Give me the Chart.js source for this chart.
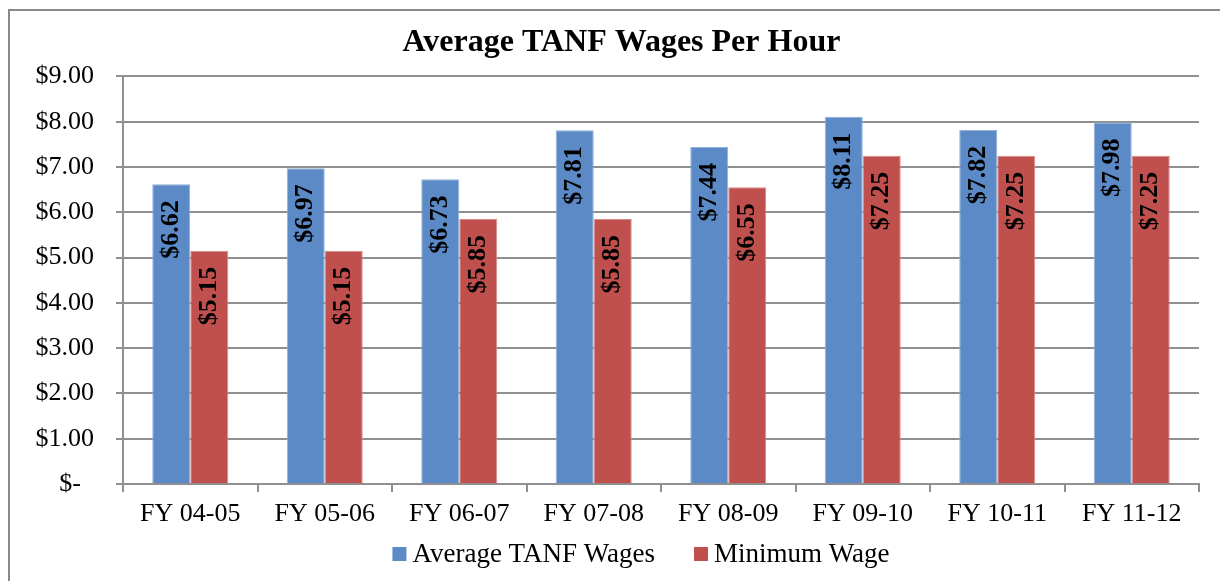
<!DOCTYPE html>
<html>
<head>
<meta charset="utf-8">
<script src="https://cdn.jsdelivr.net/npm/chart.js@4.4.1/dist/chart.umd.min.js"></script>
<style>
  html, body { margin: 0; padding: 0; background: #fff; }
  #wrap { position: relative; width: 1220px; height: 581px; }
</style>
</head>
<body>
<div id="wrap"><canvas id="wages" width="1220" height="581"></canvas></div>
<script>
// Data
const categories = ['FY 04-05', 'FY 05-06', 'FY 06-07', 'FY 07-08', 'FY 08-09', 'FY 09-10', 'FY 10-11', 'FY 11-12'];
const tanfWages = [6.62, 6.97, 6.73, 7.81, 7.44, 8.11, 7.82, 7.98];
const minWage = [5.15, 5.15, 5.85, 5.85, 6.55, 7.25, 7.25, 7.25];
const seriesNames = ['Average TANF Wages', 'Minimum Wage'];
const seriesColors = ['#5B8AC6', '#C0504D'];

const serif = "'Liberation Serif', 'Times New Roman', serif";
const gridGray = '#8f8f8f';

// Frame round the chart
const framePlugin = {
  id: 'frame',
  afterLayout(chart) {
    // let the y tick labels run into the left padding without being clipped
    chart.scales.y.left = 0;
  },
  beforeDraw(chart) {
    const ctx = chart.ctx;
    ctx.save();
    ctx.strokeStyle = '#8a8a8a';
    ctx.lineWidth = 2;
    ctx.beginPath();
    ctx.moveTo(9, chart.height + 5);
    ctx.lineTo(9, 10);
    ctx.lineTo(chart.width + 5, 10);
    ctx.stroke();
    ctx.restore();
  }
};

// Rotated value labels inside the top of each bar
const valueLabels = {
  id: 'valueLabels',
  afterDatasetsDraw(chart) {
    const ctx = chart.ctx;
    ctx.save();
    ctx.font = 'bold 26px ' + serif;
    ctx.fillStyle = '#000';
    ctx.textAlign = 'right';
    ctx.textBaseline = 'middle';
    chart.data.datasets.forEach((ds, i) => {
      chart.getDatasetMeta(i).data.forEach((bar, j) => {
        ctx.save();
        ctx.translate(bar.x, bar.y + 16);
        ctx.rotate(-Math.PI / 2);
        ctx.fillText('$' + ds.data[j].toFixed(2), 0, 0);
        ctx.restore();
      });
    });
    ctx.restore();
  }
};

// Legend at the bottom
const bottomLegend = {
  id: 'bottomLegend',
  afterDraw(chart) {
    const ctx = chart.ctx;
    const centerX = 641, centerY = 554, box = 14;
    ctx.save();
    ctx.font = '27px ' + serif;
    ctx.textBaseline = 'middle';
    ctx.textAlign = 'left';
    const widths = seriesNames.map(n => ctx.measureText(n).width);
    const total = widths.reduce((s, w) => s + box + 6 + w, 0) + 39;
    let x = centerX - total / 2;
    seriesNames.forEach((name, i) => {
      ctx.fillStyle = seriesColors[i];
      ctx.fillRect(x, centerY - box / 2, box, box);
      ctx.fillStyle = '#000';
      ctx.fillText(name, x + box + 6, centerY + 1);
      x += box + 6 + widths[i] + 39;
    });
    ctx.restore();
  }
};

new Chart(document.getElementById('wages'), {
  type: 'bar',
  data: {
    labels: categories,
    datasets: [
      { label: seriesNames[0], data: tanfWages, backgroundColor: seriesColors[0], borderColor: '#8fb0da', borderWidth: 1 },
      { label: seriesNames[1], data: minWage, backgroundColor: seriesColors[1], borderColor: '#d98a88', borderWidth: 1 }
    ]
  },
  options: {
    responsive: false,
    animation: false,
    datasets: { bar: { categoryPercentage: 0.565, barPercentage: 1 } },
    layout: { padding: { top: 0, left: 44, right: 21, bottom: 50 } },
    plugins: {
      legend: { display: false },
      tooltip: { enabled: false },
      title: {
        display: true,
        text: 'Average TANF Wages Per Hour',
        color: '#000',
        font: { family: serif, size: 32, weight: 'bold', lineHeight: 1.2 },
        padding: { top: 24, bottom: 14 }
      }
    },
    scales: {
      x: {
        grid: { drawOnChartArea: false, drawTicks: true, tickLength: 8, offset: true, color: gridGray, lineWidth: 2 },
        border: { display: true, color: gridGray, width: 2 },
        ticks: { color: '#000', font: { family: serif, size: 26 }, padding: 7, maxRotation: 0 },
        afterFit(scale) { scale.height = 47; }
      },
      y: {
        min: 0,
        max: 9,
        grid: { color: gridGray, lineWidth: 2, tickLength: 7 },
        border: { display: true, color: gridGray, width: 2 },
        ticks: {
          stepSize: 1,
          color: '#000',
          font: { family: serif, size: 26 },
          padding: 22,
          callback: v => v === 0 ? '$-  ' : '$' + v.toFixed(2)
        },
        afterFit(scale) { scale.width = 79; }
      }
    }
  },
  plugins: [framePlugin, valueLabels, bottomLegend]
});
</script>
</body>
</html>
